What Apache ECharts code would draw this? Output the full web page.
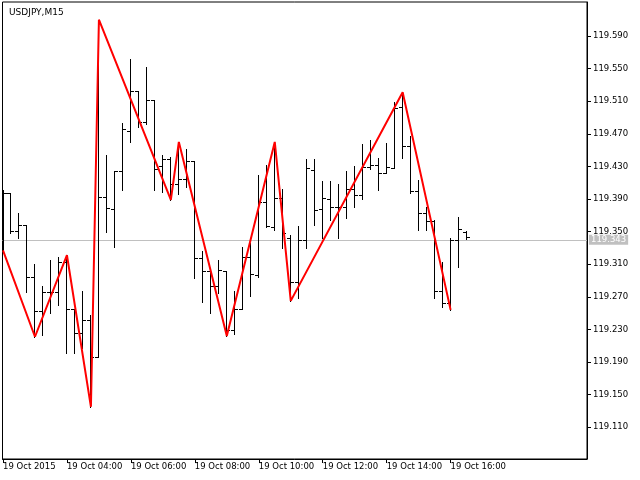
<!DOCTYPE html>
<html>
<head>
<meta charset="utf-8">
<script src="https://cdn.jsdelivr.net/npm/echarts@6/dist/echarts.min.js"></script>
<style>html,body{margin:0;padding:0;background:#fff}#c{width:640px;height:480px}</style>
</head>
<body>
<div id="c"></div>
<script>
// bar index 0..58 (15-minute bars)
const opens  = [119.397,119.397,119.351,119.358,119.294,119.253,119.276,119.276,119.313,119.255,119.226,119.242,119.196,119.392,119.378,119.424,119.473,119.523,119.484,119.511,119.430,119.439,119.408,119.415,119.437,119.318,119.302,119.283,119.302,119.229,119.255,119.319,119.297,119.386,119.356,119.391,119.342,119.288,119.340,119.426,119.378,119.390,119.380,119.380,119.402,119.395,119.429,119.432,119.422,119.428,119.503,119.455,119.400,119.373,119.363,119.277,119.262,119.340,119.350];
const highs  = [119.401,119.397,119.373,119.358,119.310,119.283,119.315,119.319,119.321,119.255,119.277,119.248,119.610,119.444,119.424,119.483,119.562,119.523,119.552,119.511,119.444,119.442,119.460,119.451,119.437,119.326,119.305,119.315,119.302,119.277,119.331,119.336,119.419,119.432,119.460,119.402,119.346,119.357,119.439,119.439,119.412,119.412,119.408,119.424,119.430,119.457,119.462,119.440,119.459,119.509,119.521,119.467,119.413,119.380,119.364,119.313,119.342,119.368,119.351];
const lows   = [119.327,119.348,119.342,119.276,119.221,119.223,119.250,119.260,119.201,119.201,119.207,119.135,119.196,119.350,119.331,119.401,119.460,119.478,119.482,119.401,119.399,119.389,119.396,119.405,119.293,119.264,119.250,119.275,119.222,119.224,119.255,119.271,119.294,119.356,119.352,119.330,119.265,119.269,119.330,119.358,119.342,119.364,119.342,119.367,119.380,119.390,119.427,119.401,119.422,119.428,119.440,119.397,119.352,119.352,119.269,119.258,119.254,119.307,119.341];
const closes = [119.397,119.351,119.358,119.294,119.253,119.276,119.276,119.313,119.255,119.226,119.242,119.196,119.392,119.379,119.424,119.476,119.523,119.484,119.511,119.427,119.439,119.408,119.415,119.437,119.318,119.302,119.283,119.303,119.229,119.255,119.319,119.298,119.386,119.357,119.391,119.348,119.288,119.340,119.428,119.376,119.391,119.380,119.380,119.402,119.395,119.429,119.432,119.422,119.429,119.502,119.455,119.400,119.373,119.363,119.277,119.262,119.340,119.353,119.343];

const zigIdx = [0,4,8,11,12,21,22,28,34,36,50,56];
const zigVal = [119.327,119.221,119.321,119.135,119.610,119.389,119.460,119.222,119.460,119.265,119.521,119.254];

const priceTicks = [119.110,119.150,119.190,119.230,119.270,119.310,119.350,119.390,119.430,119.470,119.510,119.550,119.590];
const timeTickIdx = [0,8,16,24,32,40,48,56];
const timeLabels = ['19 Oct 2015','19 Oct 04:00','19 Oct 06:00','19 Oct 08:00','19 Oct 10:00','19 Oct 12:00','19 Oct 14:00','19 Oct 16:00'];
const currentPrice = 119.343;
const symbolTitle = 'USDJPY,M15';

const ohlc = opens.map((o,i)=>[i,o,highs[i],lows[i],closes[i]]);
const zig = zigIdx.map((k,i)=>[k,zigVal[i]]);

const FONT = 'DejaVu Sans';
const chart = echarts.init(document.getElementById('c'), null, {renderer:'canvas'});

function renderBar(params, api){
  const k = api.value(0);
  const o = api.coord([k, api.value(1)]);
  const h = api.coord([k, api.value(2)]);
  const l = api.coord([k, api.value(3)]);
  const c = api.coord([k, api.value(4)]);
  const px = Math.floor(o[0]) + 0.5;
  const r = v => Math.round(v) + 0.5;
  const st = {stroke:'#000', lineWidth:1};
  return {type:'group', children:[
    {type:'line', shape:{x1:px, y1:Math.round(h[1]), x2:px, y2:Math.round(l[1])+1}, style:st},
    {type:'line', shape:{x1:px-3.5, y1:r(o[1]), x2:px-0.5, y2:r(o[1])}, style:st},
    {type:'line', shape:{x1:px+0.5, y1:r(c[1]), x2:px+3.5, y2:r(c[1])}, style:st}
  ]};
}

chart.setOption({
  animation:false,
  backgroundColor:'#fff',
  title:{text:symbolTitle, left:4, top:3, textStyle:{fontFamily:FONT, fontSize:9, fontWeight:'normal', color:'#000'}},
  grid:{left:2, right:53, top:2, bottom:21, show:true, borderColor:'#000', borderWidth:1, backgroundColor:'#fff'},
  xAxis:{type:'value', min:-0.0625, max:73.0625,
    axisLine:{show:true, onZero:false, lineStyle:{color:'#000'}},
    splitLine:{show:false},
    axisTick:{show:true, length:4, customValues:timeTickIdx, lineStyle:{color:'#000'}},
    axisLabel:{customValues:timeTickIdx, align:'left', margin:3, color:'#000', fontFamily:FONT, fontSize:8.5,
      formatter:v=>{const i=timeTickIdx.indexOf(Math.round(v)); return i>=0?timeLabels[i]:'';}}
  },
  yAxis:{type:'value', position:'right', min:119.071, max:119.6317, scale:true,
    axisLine:{show:true, onZero:false, lineStyle:{color:'#000'}},
    splitLine:{show:false},
    axisTick:{show:true, length:4, customValues:priceTicks, lineStyle:{color:'#000'}},
    axisLabel:{customValues:priceTicks, margin:6, color:'#000', fontFamily:FONT, fontSize:8.5,
      formatter:v=>v.toFixed(3)}
  },
  series:[
    {type:'custom', renderItem:renderBar, data:ohlc, encode:{x:0,y:[1,2,3,4]}, clip:true, z:3},
    {type:'line', data:zig, symbol:'none', lineStyle:{color:'#ff0000', width:2}, itemStyle:{color:'#ff0000'}, z:4, clip:true,
      markLine:{silent:true, symbol:'none', z:1,
        lineStyle:{color:'#c0c0c0', type:'solid', width:1},
        label:{position:'end', distance:2, formatter:currentPrice.toFixed(3), color:'#fff', backgroundColor:'#c0c0c0',
          padding:[1,2,0,2], fontFamily:FONT, fontSize:8.5},
        data:[{yAxis:currentPrice}]}
    }
  ]
});
</script>
</body>
</html>
